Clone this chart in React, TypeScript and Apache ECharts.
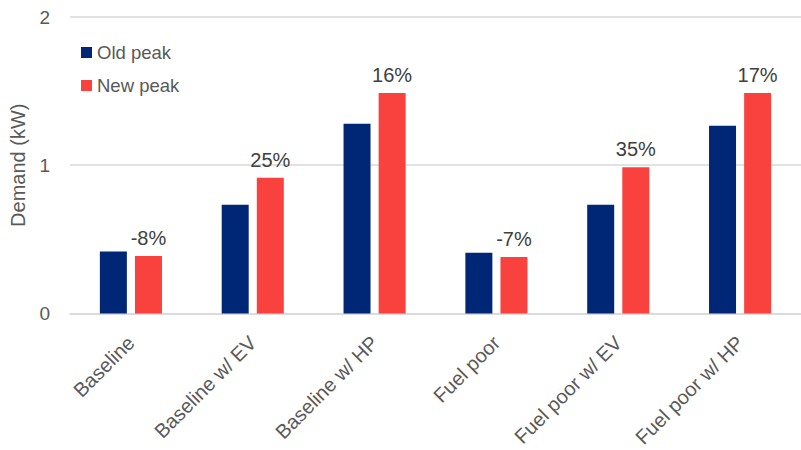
import React, { useEffect, useRef } from "react";
import * as echarts from "echarts";

const categories = [
  "Baseline",
  "Baseline w/ EV",
  "Baseline w/ HP",
  "Fuel poor",
  "Fuel poor w/ EV",
  "Fuel poor w/ HP",
];
const oldPeak = [0.418, 0.733, 1.28, 0.409, 0.733, 1.267];
const newPeak = [0.387, 0.915, 1.487, 0.38, 0.987, 1.487];
const changeLabels = ["-8%", "25%", "16%", "-7%", "35%", "17%"];
const yTicks = [0, 1, 2];

export default function App() {
  const ref = useRef<HTMLDivElement>(null);
  useEffect(() => {
    if (!ref.current) return;
    const chart = echarts.init(ref.current, null, { renderer: "svg" });
    const font = "Arial, 'Liberation Sans', sans-serif";
    chart.setOption({
      animation: false,
      backgroundColor: "#ffffff",
      textStyle: { fontFamily: font },
      legend: {
        orient: "vertical",
        left: 76,
        top: 38,
        itemWidth: 11,
        itemHeight: 11,
        itemGap: 14,
        icon: "rect",
        textStyle: { fontSize: 18.5, color: "#595959", fontFamily: font },
        data: ["Old peak", "New peak"],
      },
      grid: { left: 66, right: -5, top: 17, bottom: 133 },
      xAxis: {
        type: "category",
        data: categories,
        axisLine: { lineStyle: { color: "#d9d9d9", width: 1.5 } },
        axisTick: { show: false },
        axisLabel: {
          rotate: 45,
          fontSize: 20,
          color: "#595959",
          margin: 26,
          interval: 0,
          fontFamily: font,
        },
      },
      yAxis: {
        type: "value",
        min: yTicks[0],
        max: yTicks[yTicks.length - 1],
        interval: 1,
        name: "Demand (kW)",
        nameLocation: "middle",
        nameGap: 42,
        nameTextStyle: { fontSize: 20, color: "#595959", fontFamily: font },
        axisLine: { show: false },
        axisTick: { show: false },
        axisLabel: { fontSize: 19, color: "#595959", margin: 20, fontFamily: font },
        splitLine: { lineStyle: { color: "#d9d9d9", width: 1.5 } },
      },
      series: [
        {
          name: "Old peak",
          type: "bar",
          data: oldPeak,
          barWidth: 27,
          barGap: "30%",
          itemStyle: { color: "#002776" },
        },
        {
          name: "New peak",
          type: "bar",
          data: newPeak,
          barWidth: 27,
          itemStyle: { color: "#F9423D" },
          label: {
            show: true,
            position: "top",
            distance: 8,
            fontSize: 20,
            color: "#404040",
            fontFamily: font,
            formatter: (p: any) => changeLabels[p.dataIndex],
          },
        },
      ],
    });
    return () => chart.dispose();
  }, []);
  return (
    <div
      ref={ref}
      style={{ position: "fixed", left: 0, top: 0, width: 801, height: 450 }}
    />
  );
}
